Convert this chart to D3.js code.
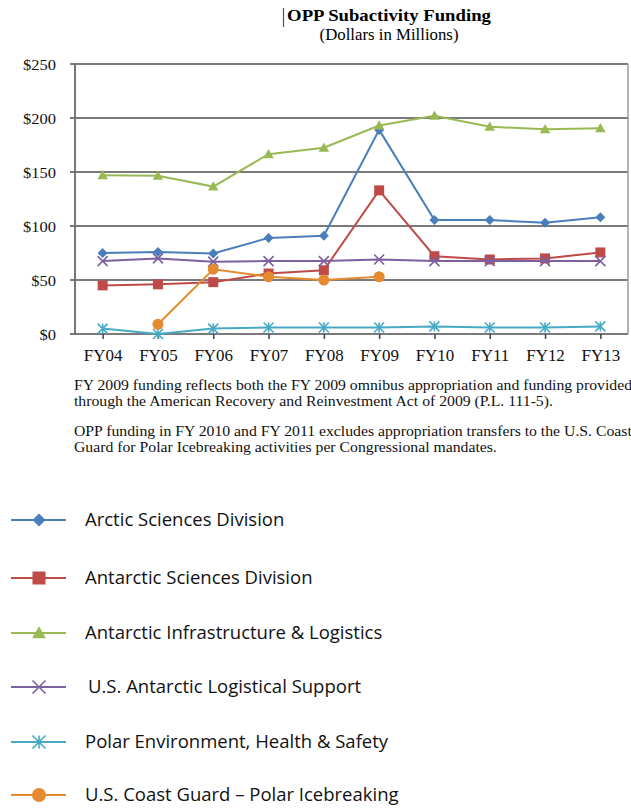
<!DOCTYPE html>
<html><head><meta charset="utf-8">
<script src="https://cdn.jsdelivr.net/npm/d3@7"></script>
<style>body{margin:0;background:#fff}svg{display:block}</style>
</head><body>
<script>
const categories = ["FY04","FY05","FY06","FY07","FY08","FY09","FY10","FY11","FY12","FY13"];
const arctic      = [75, 76, 74.5, 89, 91, 189, 105.5, 105.5, 103, 108];
const antSci      = [45, 46, 48, 56, 59, 133, 72, 69, 70, 75.5];
const antInfra    = [147, 146.5, 136.5, 166.5, 172.5, 193, 202, 192, 189.5, 190.5];
const logistical  = [67.5, 70, 67, 67.5, 67.5, 69, 67.5, 67.5, 67.5, 67.5];
const polarEnv    = [5, 0, 5, 6, 6, 6, 7, 6, 6, 7];
const coastGuard  = [null, 9, 60, 53, 50, 53, null, null, null, null];
const seriesNames = ["Arctic Sciences Division","Antarctic Sciences Division","Antarctic Infrastructure & Logistics","U.S. Antarctic Logistical Support","Polar Environment, Health & Safety","U.S. Coast Guard \u2013 Polar Icebreaking"];
const yTicks = [0, 50, 100, 150, 200, 250];
const notes = [
  "FY 2009 funding reflects both the FY 2009 omnibus appropriation and funding provided",
  "through the American Recovery and Reinvestment Act of 2009 (P.L. 111-5).",
  "OPP funding in FY 2010 and FY 2011 excludes appropriation transfers to the U.S. Coast",
  "Guard for Polar Icebreaking activities per Congressional mandates."
];

const series = [
  {name: seriesNames[0], values: arctic,     color: "#4A7EBB", marker: "diamond"},
  {name: seriesNames[1], values: antSci,     color: "#BE4B48", marker: "square"},
  {name: seriesNames[2], values: antInfra,   color: "#98B954", marker: "triangle"},
  {name: seriesNames[3], values: logistical, color: "#7D60A0", marker: "x"},
  {name: seriesNames[4], values: polarEnv,   color: "#46AAC5", marker: "star"},
  {name: seriesNames[5], values: coastGuard, color: "#E58A2E", marker: "circle"}
];

const W = 631, H = 808;
const svg = d3.select("body").append("svg").attr("width", W).attr("height", H);
const serif = "'Liberation Serif','Times New Roman',serif";
const sans = "'Open Sans','Noto Sans',sans-serif";

const m = {left: 75, right: 628, top: 64, bottom: 334};
const x = d3.scalePoint().domain(categories).range([m.left, m.right]).padding(0.5);
const y = d3.scaleLinear().domain([0, 250]).range([m.bottom, m.top]);

function stretchedText(parent, tx, ty, sx, txt) {
  return parent.append("text").attr("transform", `translate(${tx},${ty}) scale(${sx},1)`).text(txt);
}

// titles
stretchedText(svg, 389, 21, 1.17, "OPP Subactivity Funding").attr("text-anchor", "middle")
  .attr("font-family", serif).attr("font-weight", "bold").attr("font-size", 16);
svg.append("line").attr("x1", 283.5).attr("x2", 283.5).attr("y1", 8).attr("y2", 27).attr("stroke", "#555").attr("stroke-width", 1.2);
stretchedText(svg, 389, 40, 1.05, "(Dollars in Millions)").attr("text-anchor", "middle")
  .attr("font-family", serif).attr("font-size", 16);

// gridlines
const g = svg.append("g");
g.selectAll("line.grid").data(yTicks).join("line")
  .attr("x1", m.left - 5).attr("x2", m.right)
  .attr("y1", d => y(d)).attr("y2", d => y(d))
  .attr("stroke", "#7a7a7a").attr("stroke-width", 1.8);
g.append("line").attr("x1", m.left).attr("x2", m.left).attr("y1", m.top).attr("y2", m.bottom + 1)
  .attr("stroke", "#6a6a6a").attr("stroke-width", 1.8);
g.append("line").attr("x1", m.right).attr("x2", m.right).attr("y1", m.top).attr("y2", m.bottom)
  .attr("stroke", "#9a9a9a").attr("stroke-width", 1.5);

// y labels
const yAxis = d3.axisLeft(y).tickValues(yTicks).tickSize(0).tickPadding(0).tickFormat(d => "$" + d);
const ya = svg.append("g").attr("transform", `translate(56,0)`).call(yAxis);
ya.select(".domain").remove();
ya.selectAll("text").attr("x", 0).attr("font-family", serif).attr("font-size", 15).attr("fill", "#111")
  .attr("dy", "0.35em").attr("transform", "scale(1.1,1)");

// x axis ticks and labels
const xAxis = d3.axisBottom(x).tickSize(5).tickPadding(11);
const xa = svg.append("g").attr("transform", `translate(0,${m.bottom})`).call(xAxis);
xa.select(".domain").remove();
xa.selectAll("line").attr("stroke", "#444").attr("stroke-width", 1.5);
xa.selectAll("text").attr("font-family", serif).attr("font-size", 16).attr("fill", "#111")
  .attr("transform", "scale(1.06,1)");

// lines
const line = d3.line().defined(d => d.v != null).x(d => x(d.c)).y(d => y(d.v));
function drawMarker(sel, type, color, s) {
  if (type === "diamond") {
    sel.append("path").attr("d", `M0,${-s}L${s},0L0,${s}L${-s},0Z`).attr("fill", color);
  } else if (type === "square") {
    sel.append("rect").attr("x", -s).attr("y", -s).attr("width", 2*s).attr("height", 2*s).attr("fill", color);
  } else if (type === "triangle") {
    sel.append("path").attr("d", `M0,${-s*1.05}L${s*1.05},${s*0.8}L${-s*1.05},${s*0.8}Z`).attr("fill", color);
  } else if (type === "x") {
    sel.append("path").attr("d", `M${-s},${-s}L${s},${s}M${-s},${s}L${s},${-s}`).attr("stroke", color).attr("stroke-width", 1.6);
  } else if (type === "star") {
    sel.append("path").attr("d", `M${-s},${-s}L${s},${s}M${-s},${s}L${s},${-s}M0,${-s}L0,${s}`).attr("stroke", color).attr("stroke-width", 1.6);
  } else if (type === "circle") {
    sel.append("circle").attr("r", s).attr("fill", color);
  }
}
const plot = svg.append("g");
series.forEach(s => {
  const data = categories.map((c, i) => ({c, v: s.values[i]}));
  plot.append("path").datum(data).attr("d", line).attr("fill", "none")
    .attr("stroke", s.color).attr("stroke-width", 2);
  data.filter(d => d.v != null).forEach(d => {
    const mg = plot.append("g").attr("transform", `translate(${x(d.c)},${y(d.v)})`);
    drawMarker(mg, s.marker, s.color, s.marker === "circle" ? 5.5 : 5);
  });
});

// notes
const noteY = [389.5, 406, 435.5, 452];
notes.forEach((t, i) => {
  stretchedText(svg, 74, noteY[i], 1.05, t)
    .attr("font-family", serif).attr("font-size", 15).attr("fill", "#111");
});

// legend
const lg = svg.append("g");
const legY = [520, 578, 633, 687, 742, 795];
series.forEach((s, i) => {
  const gy = legY[i];
  lg.append("line").attr("x1", 11).attr("x2", 66).attr("y1", gy).attr("y2", gy)
    .attr("stroke", s.color).attr("stroke-width", 2.2);
  const mg = lg.append("g").attr("transform", `translate(39,${gy})`);
  drawMarker(mg, s.marker, s.color, s.marker === "circle" ? 7 : 6.5);
  lg.append("text").attr("x", i === 3 ? 88 : 85).attr("y", gy).attr("dy", "0.35em")
    .attr("font-family", sans).attr("font-size", 18.5).attr("fill", "#111").text(s.name);
});
</script>
</body></html>
